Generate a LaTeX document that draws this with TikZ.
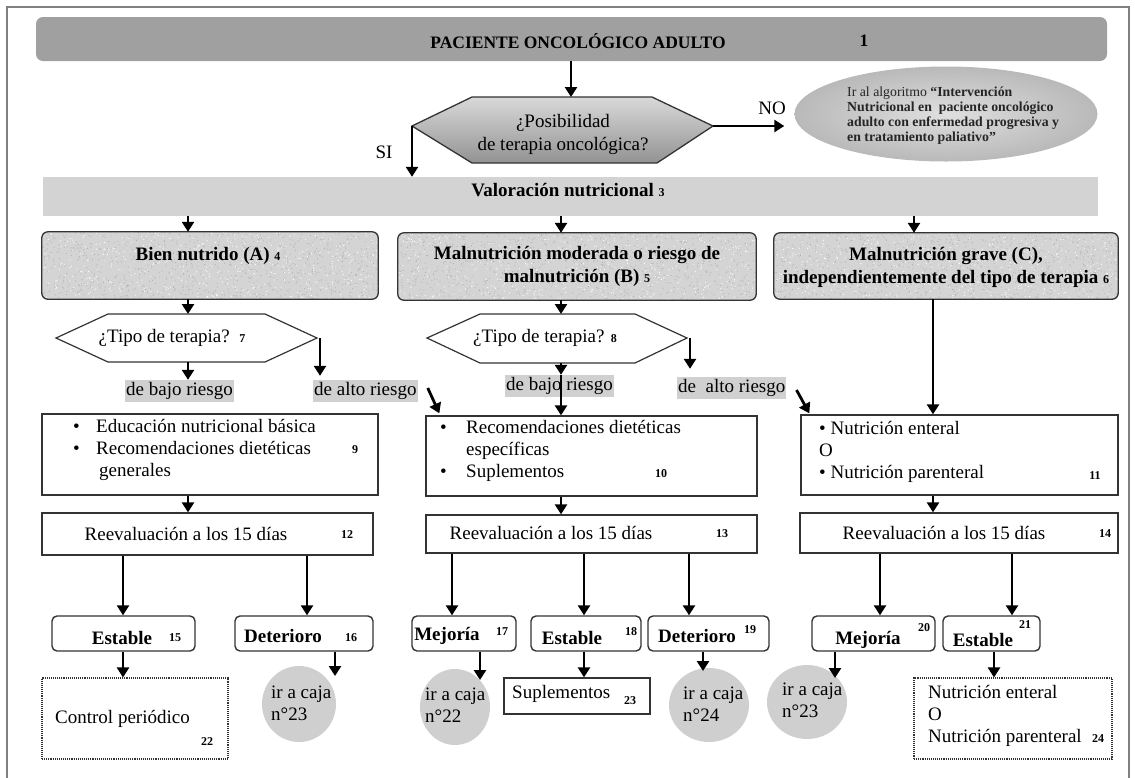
\documentclass[tikz,border=0pt]{standalone}
\usepackage{fontspec}
\setmainfont{Liberation Serif}
\usetikzlibrary{arrows.meta,shapes.geometric,calc,fit}
\newcommand\fsz[2]{\fontsize{#1}{#2}\selectfont}
\newcommand\nb[1]{{\bfseries\fsz{12}{14}#1}}
% grainy fill for the three status boxes
\newcommand\grain[4]{%
  \begin{scope}
    \clip[rounded corners=6pt] (#1,#2) rectangle (#3,#4);
    \foreach \i in {1,...,900}{\fill[gray!62] ({#1+(#3-#1)*rnd},{#2+(#4-#2)*rnd}) circle (0.55pt);}
    \foreach \i in {1,...,500}{\fill[white] ({#1+(#3-#1)*rnd},{#2+(#4-#2)*rnd}) circle (0.6pt);}
  \end{scope}}
\definecolor{framegray}{HTML}{808080}
\definecolor{titlefill}{HTML}{A0A0A0}
\definecolor{bandfill}{HTML}{D3D3D3}
\definecolor{lblfill}{HTML}{D0D0D0}
\definecolor{speckfill}{HTML}{D4D4D4}
\definecolor{edge}{HTML}{333333}
\definecolor{gotofill}{HTML}{CFCFCF}
\begin{document}
\begin{tikzpicture}[x=1pt,y=-1pt,
  arr/.style={line width=2.8pt,-{Triangle[length=10pt,width=12pt]}},
  txt/.style={font=\fsz{19}{22},inner sep=0pt},
  btxt/.style={font=\bfseries\fsz{19}{23},inner sep=0pt},
  num/.style={font=\bfseries\fsz{12}{14},inner sep=0pt},
  pbox/.style={draw=edge,line width=1.3pt,fill=white,inner sep=0pt},
  dotbox/.style={draw=edge,line width=1.1pt,densely dotted,inner sep=0pt},
  sbox/.style={draw=edge,line width=1.4pt,rounded corners=5pt,inner sep=0pt},
  speck/.style={rounded corners=6pt,fill=speckfill,inner sep=0pt},
  speckedge/.style={draw=edge,line width=1.3pt,rounded corners=6pt},
  riskl/.style={txt,fill=lblfill,minimum height=22pt,inner xsep=1pt,anchor=west},
  gobox/.style={ellipse,fill=gotofill,inner sep=0pt},
  hexa/.style={draw=edge,line width=1.2pt,fill=white}
]
\useasboundingbox (0,0) rectangle (1135,777);
\pgfmathsetseed{4711}
% outer frame
\draw[framegray,line width=1.8pt] (7,800) -- (7,7) -- (1129,7) -- (1129,800);

% ---------- header ----------
\node[fit={(36,17) (1107,61)},inner sep=0pt,fill=titlefill,rounded corners=7pt] (top) {};
\node[btxt,font=\bfseries\fsz{17.5}{20}] (toptxt) at (578,41) {PACIENTE ONCOLÓGICO ADULTO};
\node[btxt,font=\bfseries\fsz{17.5}{20}] (topnum) at (864,41) {1};

% first decision
\coordinate (qL) at (412,126); \coordinate (qTL) at (472,97); \coordinate (qTR) at (652,97);
\coordinate (qR) at (713,126); \coordinate (qBR) at (657,163); \coordinate (qBL) at (472,163);
\coordinate (qT) at (571,97);
\shade[top color=gray!30,bottom color=gray!85] (qL) -- (qTL) -- (qTR) -- (qR) -- (qBR) -- (qBL) -- cycle;
\draw[edge,line width=1.3pt] (qL) -- (qTL) -- (qTR) -- (qR) -- (qBR) -- (qBL) -- cycle;
\node[txt,align=center,font=\fsz{19}{23}] (qtxt) at (563,134) {¿Posibilidad\\de terapia oncológica?};
\node[txt] (si) at (384,152) {SI};
\node[txt] (no) at (772,108) {NO};

% palliative pathway
\node[ellipse,minimum width=303pt,minimum height=95pt,inner sep=0pt,inner color=gray!25,outer color=gray!55] (goal) at (946,114) {};
\node[anchor=north west,align=left,font=\fsz{13.8}{15},inner sep=0pt,text=black!85] (goaltxt) at (847,87)
  {Ir al algoritmo \textbf{“Intervención}\\\textbf{Nutricional en\ \ paciente oncológico}\\\textbf{adulto con enfermedad progresiva y}\\\textbf{en tratamiento paliativo”}};

% assessment band
\node[fit={(43,177) (1098,216)},inner sep=0pt,fill=bandfill] (band) {};
\node[btxt] (bandtxt) at (568,190) {Valoración nutricional \nb{3}};

% column x positions
\coordinate (cA) at (188,0); \coordinate (cB) at (561,0);
\coordinate (cC) at (914,0); \coordinate (cD) at (933,0);

% ---------- nutritional status ----------
\node[speck,fit={(42,232) (378,299)}] (bA) {};
\node[speck,fit={(398,233) (756,300)}] (bB) {};
\node[speck,fit={(774,233) (1118,299)}] (bC) {};
\grain{42}{232}{378}{299}
\grain{398}{233}{756}{300}
\grain{774}{233}{1118}{299}
\draw[speckedge] (bA.north west) rectangle (bA.south east);
\draw[speckedge] (bB.north west) rectangle (bB.south east);
\draw[speckedge] (bC.north west) rectangle (bC.south east);
\node[btxt] (tA) at (208,256) {Bien nutrido (A) \nb{4}};
\node[btxt,align=center] (tB) at (577,266) {Malnutrición moderada o riesgo de\\malnutrición (B) \nb{5}};
\node[btxt,align=center] (tC) at (946,267) {Malnutrición grave (C),\\independientemente del tipo de terapia \nb{6}};

% therapy decisions
\coordinate (h7L) at (56,338); \coordinate (h7TL) at (108,314); \coordinate (h7TR) at (265,314);
\coordinate (h7R) at (317,338); \coordinate (h7BR) at (265,362); \coordinate (h7BL) at (108,362);
\coordinate (h7Rx) at (320,338);
\draw[hexa] (h7L) -- (h7TL) -- (h7TR) -- (h7R) -- (h7BR) -- (h7BL) -- cycle;
\node[txt] (t7) at (172,338) {¿Tipo de terapia?\ \ \nb{7}};

\coordinate (h8L) at (427,338); \coordinate (h8TL) at (480,314); \coordinate (h8TR) at (635,314);
\coordinate (h8R) at (687,338); \coordinate (h8BR) at (635,363); \coordinate (h8BL) at (480,363);
\coordinate (h8Rx) at (690,338);
\draw[hexa] (h8L) -- (h8TL) -- (h8TR) -- (h8R) -- (h8BR) -- (h8BL) -- cycle;
\node[txt] (t8) at (545,338) {¿Tipo de terapia? \nb{8}};

% risk labels
\node[riskl] (lowA) at (125,391) {de bajo riesgo\hspace{7pt}};
\node[riskl] (highA) at (313,391) {de alto riesgo};
\node[riskl] (lowB) at (505,386) {de bajo riesgo\hspace{7pt}};
\node[riskl] (highB) at (677,388) {de\ \ alto riesgo};

% ---------- interventions ----------
\node[pbox,fit={(42,414) (378,495)}] (b9) {};
\node[txt,align=left,anchor=west] (t9) at (73,450)
  {\makebox[23pt][l]{\textbullet}Educación nutricional básica\\
   \makebox[23pt][l]{\textbullet}Recomendaciones dietéticas\\
   \hspace{26pt}generales};
\node[num] (k9) at (355,450) {9};

\node[pbox,fit={(426,416) (757,496)}] (b10) {};
\node[txt,align=left,anchor=west] (t10) at (440,450.5)
  {\makebox[26pt][l]{\textbullet}Recomendaciones dietéticas\\
   \hspace{26pt}específicas\\
   \makebox[26pt][l]{\textbullet}Suplementos};
\node[num] (k10) at (661,474) {10};

\node[pbox,fit={(801,415) (1118,495)}] (b11) {};
\node[txt,align=left,anchor=west] (t11) at (819,452)
  {\textbullet\ Nutrición enteral\\O\\\textbullet\ Nutrición parenteral};
\node[num] (k11) at (1095,476) {11};

% reassessment
\node[pbox,fit={(42,513) (373,555)}] (b12) {};
\node[txt] (t12) at (186,534) {Reevaluación a los 15 días};
\node[num] (k12) at (347,535) {12};
\node[pbox,fit={(426,515) (757,553)}] (b13) {};
\node[txt] (t13) at (551,533) {Reevaluación a los 15 días};
\node[num] (k13) at (722,534) {13};
\node[pbox,fit={(800,513) (1118,553)}] (b14) {};
\node[txt] (t14) at (944,533) {Reevaluación a los 15 días};
\node[num] (k14) at (1105,534) {14};

% ---------- outcomes ----------
\node[sbox,fit={(52,616) (195,651)}] (s15) {};
\node[btxt] (e15) at (122,638) {Estable};   \node[num] (k15) at (175,638) {15};
\node[sbox,fit={(235,616) (373,651)}] (s16) {};
\node[btxt] (e16) at (283,636) {Deterioro}; \node[num] (k16) at (351,638) {16};
\node[sbox,fit={(412,616) (516,651)}] (s17) {};
\node[btxt] (e17) at (447,636) {Mejoría};   \node[num] (k17) at (502,632) {17};
\node[sbox,fit={(531,616) (641,651)}] (s18) {};
\node[btxt] (e18) at (572,638) {Estable};   \node[num] (k18) at (631,632) {18};
\node[sbox,fit={(648,616) (769,651)}] (s19) {};
\node[btxt] (e19) at (697,636) {Deterioro}; \node[num] (k19) at (750,630) {19};
\node[sbox,fit={(812,616) (935,651)}] (s20) {};
\node[btxt] (e20) at (868,640) {Mejoría};   \node[num] (k20) at (924,628) {20};
\node[sbox,fit={(943,616) (1040,651)}] (s21) {};
\node[btxt] (e21) at (983,640) {Estable};   \node[num] (k21) at (1025,625) {21};

% follow-up
\node[dotbox,fit={(42,678) (228,759)}] (ctrl) {};
\node[txt,anchor=west] (tctrl) at (55,719) {Control periódico};
\node[num] (k22) at (207,742) {22};

\node[gobox,minimum width=74pt,minimum height=76pt] (g23a) at (299,704) {};
\node[txt,align=left,anchor=west] (tg23a) at (271,703) {ir a caja\\n°23};
\node[gobox,minimum width=70pt,minimum height=76pt] (g22) at (455,707) {};
\node[txt,align=left,anchor=west] (tg22) at (425,705) {ir a caja\\n°22};
\node[pbox,fit={(504,678) (650,714)}] (sup) {};
\node[txt,anchor=west] (tsup) at (512,694) {Suplementos};
\node[num] (k23) at (630,701) {23};
\node[gobox,minimum width=80pt,minimum height=74pt] (g24) at (709,705) {};
\node[txt,align=left,anchor=west] (tg24) at (683,704) {ir a caja\\n°24};
\node[gobox,minimum width=80pt,minimum height=74pt] (g23b) at (807,702) {};
\node[txt,align=left,anchor=west] (tg23b) at (782,700) {ir a caja\\n°23};

\node[dotbox,fit={(914,678) (1112,759)}] (b24) {};
\node[txt,align=left,anchor=west] (tb24) at (928,716) {Nutrición enteral\\O\\Nutrición parenteral};
\node[num] (k24) at (1098,739) {24};

% ---------- connectors ----------
\draw[arr] (top.south -| qT) -- (qT);
\draw[arr] (qL) -- (qL |- band.north);
\draw[arr,shorten >=10pt] (qR) -- (qR -| goal.west);

\draw[arr] (band.south -| cA) -- (bA.north -| cA);
\draw[arr] (band.south -| cB) -- (bB.north -| cB);
\draw[arr] (band.south -| cC) -- (bC.north -| cC);

\draw[arr] (bA.south -| cA) -- (h7TL -| cA);
\draw[arr] (bB.south -| cB) -- (h8TL -| cB);
\draw[arr] (bC.south -| cD) -- (b11.north -| cD);

\draw[arr] (h7BL -| cA) -- (lowA.north -| cA);
\draw[arr,shorten >=4pt] (h7Rx) -- (h7Rx |- highA.north);
\draw[arr] (h8BL -| cB) -- (lowB.north -| cB);
\draw[arr] (lowB.north -| cB) -- (b10.north -| cB);
\draw[arr,shorten >=8pt] (h8Rx) -- (h8Rx |- highB.north);
\draw[arr] ($(highA.east)+(10,-3)$) -- ($(b10.north west)+(14,-2)$);
\draw[arr] ($(highB.east)+(10,2)$) -- ($(b11.north west)+(9,-1)$);

\draw[arr] (b9.south -| cA) -- (b12.north -| cA);
\draw[arr] (b10.south -| cB) -- (b13.north -| cB);
\draw[arr] (b11.south -| cD) -- (b14.north -| cD);

\coordinate (x15) at (123,0); \coordinate (x16) at (307,0); \coordinate (x17) at (452,0);
\coordinate (x18) at (584,0); \coordinate (x19) at (689,0); \coordinate (x20) at (880,0);
\coordinate (x21) at (1012,0); \coordinate (x24) at (994,0);
\draw[arr] (b12.south -| x15) -- (s15.north -| x15);
\draw[arr] (b12.south -| x16) -- (s16.north -| x16);
\draw[arr] (b13.south -| x17) -- (s17.north -| x17);
\draw[arr] (b13.south -| x18) -- (s18.north -| x18);
\draw[arr] (b13.south -| x19) -- (s19.north -| x19);
\draw[arr] (b14.south -| x20) -- (s20.north -| x20);
\draw[arr] (b14.south -| x21) -- (s21.north -| x21);

\coordinate (t16) at (335,676); \coordinate (t17) at (480,680);
\coordinate (t19) at (703,671); \coordinate (t20) at (835,678);
\draw[arr] (s15.south -| x15) -- (ctrl.north -| x15);
\draw[arr] (s16.south -| t16) -- (t16);
\draw[arr] (s17.south -| t17) -- (t17);
\draw[arr] (s18.south -| x18) -- (sup.north -| x18);
\draw[arr] (s19.south -| t19) -- (t19);
\draw[arr] (s20.south -| t20) -- (t20);
\draw[arr] (s21.south -| x24) -- (b24.north -| x24);
\end{tikzpicture}
\end{document}
